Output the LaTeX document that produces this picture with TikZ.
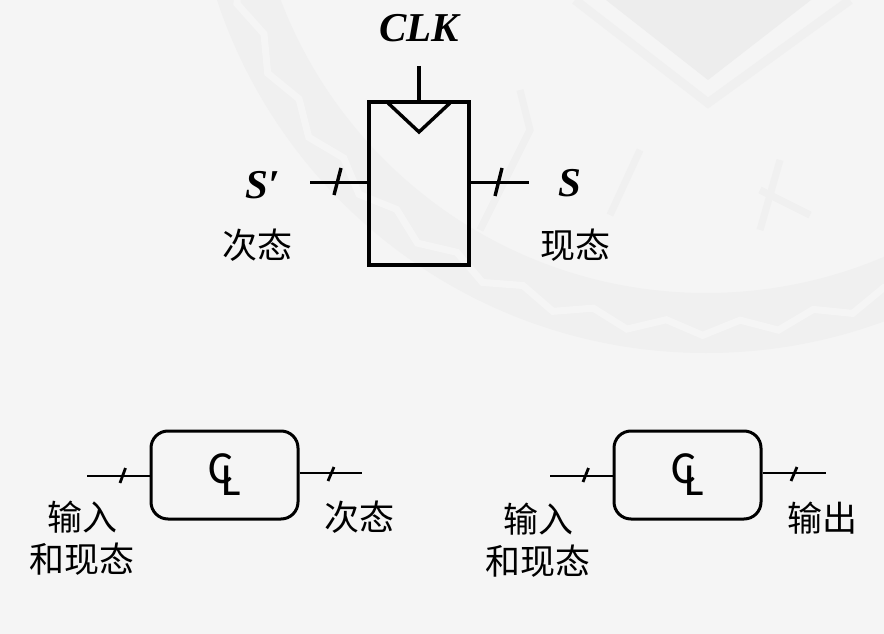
\documentclass[tikz,border=0pt]{standalone}
\usepackage{amsmath,amssymb}
\usepackage{fontspec}
\newfontfamily\cjk{Noto Sans CJK SC}
\newfontfamily\clfont{Carlito}
\newfontfamily\symfont{Liberation Serif}
\definecolor{pagebg}{HTML}{F5F5F5}
\definecolor{seal}{HTML}{F0F0F0}
\definecolor{sealdark}{HTML}{EDEDED}
\usetikzlibrary{positioning,calc,decorations.pathmorphing}
\newcommand{\clmark}{C\kern-11.5pt\lower12pt\hbox{L}}

\begin{document}
\begin{tikzpicture}[x=1pt,y=-1pt,
  wire/.style={line width=3.4pt},
  thin wire/.style={line width=2.8pt},
  flop/.style={draw, line width=3.4pt, minimum width=100pt, minimum height=163pt, inner sep=0pt},
  clbox/.style={draw, line width=3pt, rounded corners=17pt, minimum width=147pt, minimum height=88pt, inner sep=0pt, font=\clfont\fontsize{46}{46}\selectfont},
  sym/.style={font=\symfont\bfseries\itshape\fontsize{41}{41}\selectfont, inner sep=0pt},
  lbl/.style={font=\cjk\fontsize{35}{42}\selectfont, align=center, inner sep=0pt}]
\useasboundingbox (0,0) rectangle (884,634);
\fill[pagebg] (0,0) rectangle (884,634);
% watermark
\draw[seal, line width=60pt] (706,-162) circle (485pt);
\draw[pagebg, line width=7pt, decorate, decoration={zigzag, segment length=75pt, amplitude=7pt}] (706,-162) circle (490pt);
\fill[sealdark] (606,0) -- (708,80) -- (811,0) -- cycle;
\draw[seal, line width=9pt] (575,0) -- (708,103) -- (850,0);
\draw[seal, line width=7pt] (520,90) -- (530,130) -- (480,230);
\draw[seal, line width=7pt] (640,150) -- (610,215);
\draw[seal, line width=7pt] (780,160) -- (760,230);
\draw[seal, line width=7pt] (760,190) -- (810,215);
% register
\node[flop] (reg) at (419,183.5) {};
\coordinate (clkin) at (419,66);
\coordinate (dl) at (388,103);
\coordinate (dm) at (419,132);
\coordinate (dr) at (450,103);
\coordinate (nsin) at (310,182.5);
\coordinate (psout) at (529,182.5);
\draw[wire] (clkin) -- (reg.north);
\draw[wire] (dl) -- (dm) -- (dr);
\draw[wire] (nsin) -- (reg.west |- nsin);
\draw[wire] (reg.east |- psout) -- (psout);
\draw[wire] (334,195) -- (341,168);
\draw[wire] (495,196) -- (502,168);
\node[sym] (clk) at (419,28) {CLK};
\node[sym] (ns) at (263,185) {S′};
\node[sym] (ps) at (570,183) {S};
\node[lbl] (nslbl) at (257,245) {次态};
\node[lbl] (pslbl) at (575,245) {现态};
% combinational blocks
\node[clbox] (cla) at (224.5,475) {\clmark};
\node[clbox] (clb) at (687.5,475) {\clmark};
\coordinate (ain) at (87,476);
\coordinate (aout) at (362,473);
\coordinate (bin) at (550,476);
\coordinate (bout) at (826,473);
\draw[thin wire] (ain) -- (cla.west |- ain);
\draw[thin wire] (cla.east |- aout) -- (aout);
\draw[thin wire] (bin) -- (clb.west |- bin);
\draw[thin wire] (clb.east |- bout) -- (bout);
\draw[thin wire] (120,483) -- (125.5,468);
\draw[thin wire] (328,481) -- (334,467);
\draw[thin wire] (583,482) -- (588.5,468);
\draw[thin wire] (791,481) -- (797,467);
\node[lbl] (ainlbl) at (82,538) {输入\\和现态};
\node[lbl] (aoutlbl) at (359,517) {次态};
\node[lbl] (binlbl) at (538,540) {输入\\和现态};
\node[lbl] (boutlbl) at (822,518) {输出};
\end{tikzpicture}
\end{document}
